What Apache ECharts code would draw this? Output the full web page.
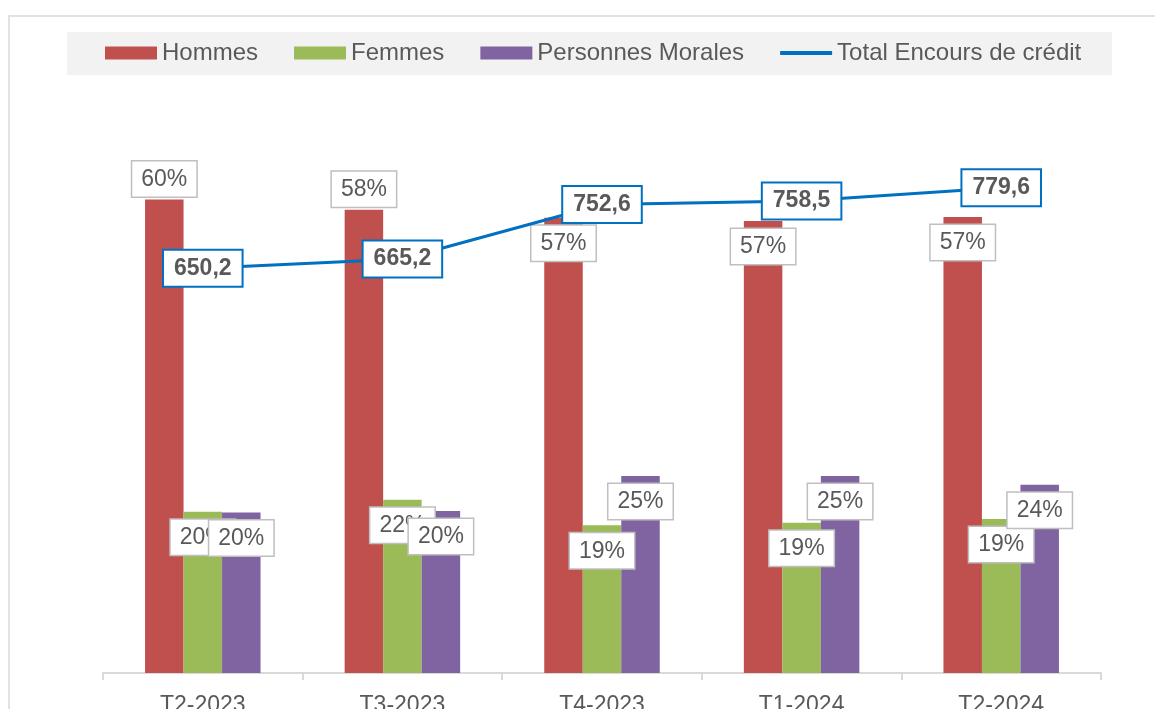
<!DOCTYPE html>
<html>
<head>
<meta charset="utf-8">
<script src="https://cdn.jsdelivr.net/npm/echarts@6/dist/echarts.min.js"></script>
<style>
  html, body { margin: 0; padding: 0; background: #fff; }
  #chart { width: 1155px; height: 709px; }
</style>
</head>
<body>
<div id="chart"></div>
<script>
// trimestres
const categories = ['T2-2023', 'T3-2023', 'T4-2023', 'T1-2024', 'T2-2024'];
// parts (%)
const hommes = [59.6, 58.3, 57.3, 56.9, 57.4];
const femmes = [20.3, 21.8, 18.6, 18.9, 19.4];
const morales = [20.2, 20.4, 24.8, 24.8, 23.7];
// encours total
const encours = [650.2, 665.2, 752.6, 758.5, 779.6];

const FONT = '"Liberation Sans", Arial, sans-serif';
const GREY = '#595959';

// etiquette encadree gris pour les barres
function pctLabel(pos, dist) {
  return {
    show: true,
    position: pos,
    distance: dist,
    formatter: p => Math.round(p.value) + '%',
    fontFamily: FONT,
    fontSize: 23,
    lineHeight: 24,
    color: GREY,
    backgroundColor: '#fff',
    borderColor: '#bfbfbf',
    borderWidth: 1.5,
    padding: [6, 9, 5, 9]
  };
}

let myChart = echarts.init(document.getElementById('chart'));
myChart.setOption({
  animation: false,
  backgroundColor: '#fff',
  graphic: [
    { // cadre du graphique
      type: 'rect', z: -10, silent: true,
      shape: { x: 9, y: 16, width: 1200, height: 760 },
      style: { fill: '#fff', stroke: '#d9d9d9', lineWidth: 1.5 }
    },
    { // bandeau de legende
      type: 'rect', z: -5, silent: true,
      shape: { x: 67, y: 32, width: 1045, height: 43 },
      style: { fill: '#f2f2f2' }
    }
  ],
  legend: {
    left: 105,
    top: 41,
    padding: 0,
    itemWidth: 52,
    itemHeight: 13,
    itemGap: 36,
    textStyle: { fontFamily: FONT, fontSize: 24, lineHeight: 24, color: GREY },
    data: [
      { name: 'Hommes', icon: 'rect' },
      { name: 'Femmes', icon: 'rect' },
      { name: 'Personnes Morales', icon: 'rect' },
      { name: 'Total Encours de crédit', icon: 'path://M0,0 L52,0 L52,4 L0,4 Z', itemStyle: { color: '#0070C0' } }
    ]
  },
  grid: { left: 103, right: 54, top: 101, bottom: 36, outerBoundsMode: 'none', containLabel: false },
  xAxis: {
    type: 'category',
    data: categories,
    axisLine: { lineStyle: { color: '#d9d9d9', width: 2 } },
    axisTick: { show: true, length: 7, lineStyle: { color: '#d9d9d9', width: 2 } },
    axisLabel: { fontFamily: FONT, fontSize: 23, color: GREY, margin: 21 }
  },
  yAxis: [
    { type: 'value', min: 0, max: 72, show: false, splitLine: { show: false } },
    { type: 'value', min: 0, max: 919, show: false, splitLine: { show: false } }
  ],
  series: [
    {
      name: 'Hommes', type: 'bar', barWidth: 38.5, barGap: '0%',
      itemStyle: { color: '#C0504D' },
      data: hommes.map((v, i) => ({
        value: v,
        label: i < 2 ? pctLabel('top', 3) : pctLabel('insideTop', 8)
      }))
    },
    {
      name: 'Femmes', type: 'bar', barWidth: 38.5, barGap: '0%',
      itemStyle: { color: '#9BBB59' },
      label: pctLabel('insideTop', 8),
      data: femmes
    },
    {
      name: 'Personnes Morales', type: 'bar', barWidth: 38.5, barGap: '0%',
      itemStyle: { color: '#8064A2' },
      label: pctLabel('insideTop', 8),
      data: morales
    },
    {
      name: 'Total Encours de crédit', type: 'line', yAxisIndex: 1,
      symbol: 'circle',
      symbolSize: 0.5,
      showSymbol: true,
      lineStyle: { color: '#0070C0', width: 3 },
      itemStyle: { color: '#0070C0' },
      label: {
        show: true,
        position: 'inside',
        formatter: p => p.value.toFixed(1).replace('.', ','),
        fontFamily: FONT,
        fontSize: 23,
        fontWeight: 'bold',
        lineHeight: 24,
        color: GREY,
        backgroundColor: '#fff',
        borderColor: '#0070C0',
        borderWidth: 2,
        padding: [6, 10, 5, 10]
      },
      data: encours
    }
  ]
});
</script>
</body>
</html>
